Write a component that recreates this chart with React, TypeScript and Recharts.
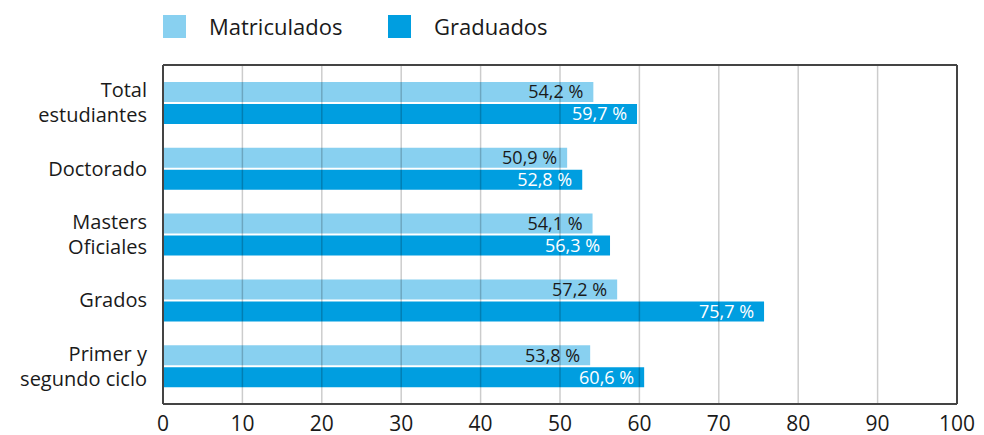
import React from "react";
import {
  BarChart,
  Bar,
  XAxis,
  YAxis,
  LabelList,
  ReferenceLine,
} from "recharts";

const categories = ["Total estudiantes", "Doctorado", "Masters Oficiales", "Grados", "Primer y segundo ciclo"];
const categoryLines = [["Total", "estudiantes"], ["Doctorado"], ["Masters", "Oficiales"], ["Grados"], ["Primer y", "segundo ciclo"]];
const matriculados = [54.2, 50.9, 54.1, 57.2, 53.8];
const graduados = [59.7, 52.8, 56.3, 75.7, 60.6];
const xTicks = [0, 10, 20, 30, 40, 50, 60, 70, 80, 90, 100];
const gridTicks = [10, 20, 30, 40, 50, 60, 70, 80, 90];
const seriesNames = ["Matriculados", "Graduados"];

const LIGHT = "#88D0F0";
const DARK = "#009EE0";
const FONT = "'Open Sans', sans-serif";

const data = categories.map((c, i) => ({
  name: c,
  matriculados: matriculados[i],
  graduados: graduados[i],
}));

const fmt = (v: any) => `${String(v).replace(".", ",")} %`;

const YTick = (props: any) => {
  const { x, y, payload, index } = props;
  const lines = categoryLines[index] ?? [payload.value];
  const lh = 25;
  const start = -((lines.length - 1) * lh) / 2;
  return (
    <text x={x} y={y} textAnchor="end" fill="#1a1a1a" fontSize={20} fontFamily={FONT}>
      {lines.map((l: string, i: number) => (
        <tspan key={i} x={x} y={y + start + i * lh} dy="0.35em">
          {l}
        </tspan>
      ))}
    </text>
  );
};

export default function App() {
  return (
    <div style={{ position: "absolute", left: 0, top: 0, width: 984, height: 435, background: "#fff" }}>
      <div style={{ position: "absolute", left: 163, top: 15, width: 600, height: 30, fontFamily: FONT, fontSize: 22, color: "#1a1a1a" }}>
        <div style={{ position: "absolute", left: 0, top: 0, width: 23, height: 23, background: LIGHT }} />
        <div style={{ position: "absolute", left: 46, top: -4, lineHeight: "30px", whiteSpace: "nowrap" }}>{seriesNames[0]}</div>
        <div style={{ position: "absolute", left: 225, top: 0, width: 23, height: 23, background: DARK }} />
        <div style={{ position: "absolute", left: 271, top: -4, lineHeight: "30px", whiteSpace: "nowrap" }}>{seriesNames[1]}</div>
      </div>
      <div style={{ position: "absolute", left: 0, top: 0 }}>
        <BarChart
          width={984}
          height={435}
          data={data}
          layout="vertical"
          margin={{ top: 64, right: 27, bottom: 0, left: 0 }}
          barCategoryGap={12}
          barGap={2}
        >
          <XAxis
            type="number"
            domain={[0, 100]}
            ticks={xTicks}
            interval={0}
            tickLine={false}
            axisLine={{ stroke: "#444", strokeWidth: 2 }}
            tick={{ fill: "#1a1a1a", fontSize: 21, fontFamily: FONT }}
            tickMargin={6}
            height={31}
          />
          <XAxis
            xAxisId="top"
            orientation="top"
            type="number"
            domain={[0, 100]}
            tick={false}
            tickLine={false}
            axisLine={{ stroke: "#444", strokeWidth: 2 }}
            height={1}
          />
          <YAxis
            type="category"
            dataKey="name"
            width={163}
            tickLine={false}
            axisLine={{ stroke: "#444", strokeWidth: 2 }}
            tick={<YTick />}
            tickMargin={10}
            padding={{ top: 5, bottom: 5 }}
            interval={0}
          />
          <Bar dataKey="matriculados" name={seriesNames[0]} fill={LIGHT} barSize={20} isAnimationActive={false}>
            <LabelList
              dataKey="matriculados"
              position="insideRight"
              offset={10}
              formatter={fmt}
              fill="#1a1a1a"
              fontSize={18}
              fontFamily={FONT}
            />
          </Bar>
          <Bar dataKey="graduados" name={seriesNames[1]} fill={DARK} barSize={20} isAnimationActive={false}>
            <LabelList
              dataKey="graduados"
              position="insideRight"
              offset={10}
              formatter={fmt}
              fill="#ffffff"
              fontSize={18}
              fontFamily={FONT}
            />
          </Bar>
          {gridTicks.map((t) => (
            <ReferenceLine key={t} x={t} stroke="#000" strokeOpacity={0.2} strokeWidth={1.5} />
          ))}
          <ReferenceLine x={100} stroke="#444" strokeWidth={2} />
        </BarChart>
      </div>
    </div>
  );
}
